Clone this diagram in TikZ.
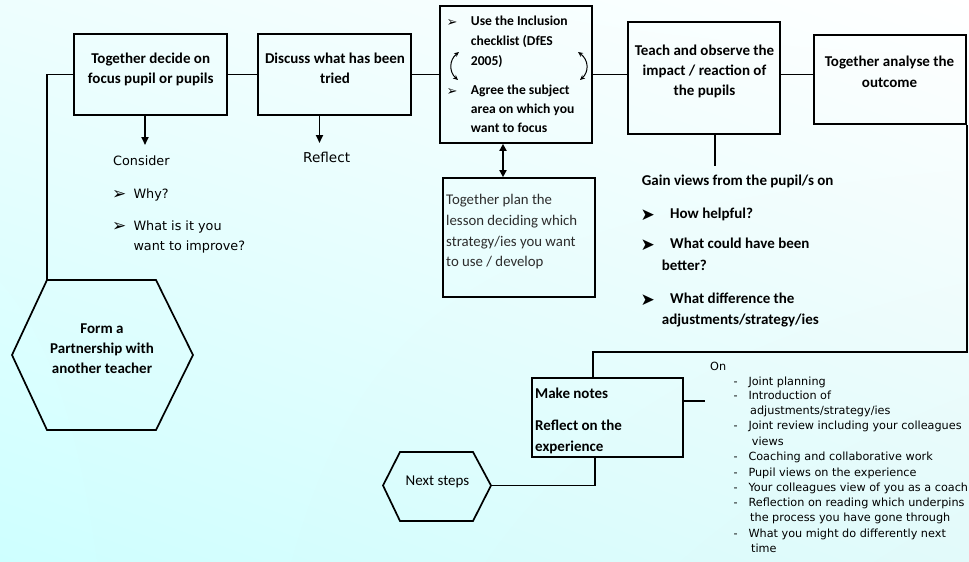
\documentclass[tikz,border=0pt]{standalone}
\usepackage{fontspec}
\setmainfont{Carlito}
\newfontfamily\dvfont{DejaVu Sans}
\usetikzlibrary{arrows.meta,shadings}
\definecolor{bgUL}{RGB}{238,254,254}
\definecolor{bgLL}{RGB}{206,255,255}
\definecolor{bgLR}{RGB}{226,250,250}
\definecolor{plangray}{RGB}{45,45,45}
\tikzset{
 box/.style={draw=black, line width=1.7pt, inner sep=0pt},
 conn/.style={draw=black, line width=1.7pt},
 arr/.style={conn, -{Triangle[length=8pt,width=7pt]}},
 darr/.style={conn, {Triangle[length=7pt,width=7pt]}-{Triangle[length=7pt,width=7pt]}},
 carr/.style={draw=black, line width=1pt, {Stealth[length=5pt,width=4.5pt]}-{Stealth[length=5pt,width=4.5pt]}},
 bt/.style={font=\bfseries\fontsize{15}{20}\selectfont, anchor=base, inner sep=0pt},
 btl/.style={bt, anchor=base west},
 bt3/.style={font=\bfseries\fontsize{13.6}{19}\selectfont, anchor=base west, inner sep=0pt},
 rt/.style={font=\fontsize{15}{20}\selectfont, anchor=base, inner sep=0pt},
 pt/.style={font=\fontsize{14.8}{20}\selectfont, text=plangray, anchor=base west, inner sep=0pt},
 tt/.style={font=\dvfont\fontsize{12.8}{16}\selectfont, anchor=base west, inner sep=0pt},
 lt/.style={font=\dvfont\fontsize{11.25}{14}\selectfont, anchor=base west, inner sep=0pt},
 bul/.style={font=\dvfont\fontsize{#1}{#1}\selectfont, anchor=base west, inner sep=0pt},
}
\begin{document}
\begin{tikzpicture}[x=1pt,y=-1pt]
\shade[upper left=bgUL, upper right=white, lower left=bgLL, lower right=bgLR] (0,0) rectangle (969,562);
\useasboundingbox (0,0) rectangle (969,562);

% boxes
\node[box, minimum width=153pt, minimum height=81pt] (b1) at (150.5,74.5) {};
\node[box, minimum width=153pt, minimum height=81pt] (b2) at (334.5,74.5) {};
\node[box, minimum width=152pt, minimum height=137pt] (b3) at (516,74.5) {};
\node[box, minimum width=152pt, minimum height=112pt] (b4) at (704,78) {};
\node[box, minimum width=152pt, minimum height=89pt] (b5) at (890,79.5) {};
\node[box, minimum width=152pt, minimum height=119pt] (plan) at (519,237.5) {};
\node[box, minimum width=151pt, minimum height=79pt] (b6) at (607.5,417.5) {};

% hexagons
\coordinate (h1tl) at (47,280);
\coordinate (h1tr) at (156,280);
\coordinate (h1r) at (193,355);
\coordinate (h1br) at (156,430);
\coordinate (h1bl) at (47,430);
\coordinate (h1l) at (12,355);
\draw[conn, line join=miter] (h1tl) -- (h1tr) -- (h1r) -- (h1br) -- (h1bl) -- (h1l) -- cycle;
\coordinate (h2tl) at (400,452);
\coordinate (h2tr) at (473,452);
\coordinate (h2r) at (491,485.5);
\coordinate (h2br) at (473,521);
\coordinate (h2bl) at (400,521);
\coordinate (h2l) at (383,485.5);
\draw[conn, line join=miter] (h2tl) -- (h2tr) -- (h2r) -- (h2br) -- (h2bl) -- (h2l) -- cycle;

% box texts
\node[bt] (t1a) at (150.7,63) {Together decide on};
\node[bt] (t1b) at (150.7,83) {focus pupil or pupils};
\node[bt] (t2a) at (335,63) {Discuss what has been};
\node[bt] (t2b) at (335,83) {tried};

\node[bul=13] (k1) at (446.5,26) {➢};
\node[bt3] (t3a) at (470.7,25) {Use the Inclusion};
\node[bt3] (t3b) at (470.7,45) {checklist (DfES};
\node[bt3] (t3c) at (470.7,65) {2005)};
\node[bul=13] (k2) at (446.5,95) {➢};
\node[bt3] (t3d) at (470.7,94) {Agree the subject};
\node[bt3] (t3e) at (470.7,113.3) {area on which you};
\node[bt3] (t3f) at (470.7,132.3) {want to focus};
\draw[carr] (459,52) .. controls (449,60) and (449,72) .. (458,80);
\draw[carr] (578,52) .. controls (589,60) and (589,72) .. (580,80);

\node[bt] (t4a) at (704.5,55) {Teach and observe the};
\node[bt] (t4b) at (704.5,75) {impact / reaction of};
\node[bt] (t4c) at (704.5,95) {the pupils};
\node[bt] (t5a) at (889.5,66.7) {Together analyse the};
\node[bt] (t5b) at (889.5,87.3) {outcome};

\node[pt] (p1) at (446,204) {Together plan the};
\node[pt] (p2) at (446,225) {lesson deciding which};
\node[pt] (p3) at (446,246) {strategy/ies you want};
\node[pt] (p4) at (446,266.7) {to use / develop};

\node[btl] (m1) at (535,398.3) {Make notes};
\node[btl] (m2) at (535,430.7) {Reflect on the};
\node[btl] (m3) at (535,451) {experience};

\node[bt] (x1) at (102,333.3) {Form a};
\node[bt] (x2) at (102,353.3) {Partnership with};
\node[bt] (x3) at (102,373.3) {another teacher};
\node[rt] (ns) at (437.5,485) {Next steps};

% consider / reflect
\node[tt] (c0) at (113,165) {Consider};
\node[bul=17] (cb1) at (112,199.5) {➢};
\node[tt] (c1t) at (133.3,198) {Why?};
\node[bul=17] (cb2) at (112,231.5) {➢};
\node[tt] (c2t) at (133.3,230) {What is it you};
\node[tt] (c3t) at (133.3,250) {want to improve?};
\node[font=\dvfont\fontsize{13.6}{16}\selectfont, anchor=base west, inner sep=0pt] (rf) at (303,162.7) {Reflect};

% gain views
\node[btl] (g0) at (641.7,185.7) {Gain views from the pupil/s on};
\node[bul=17] (gb1) at (640.5,220) {➤};
\node[btl] (g1) at (670,218.3) {How helpful?};
\node[bul=17] (gb2) at (640.5,250) {➤};
\node[btl] (g2) at (670,248.3) {What could have been};
\node[btl] (g3) at (661.7,270) {better?};
\node[bul=17] (gb3) at (640.5,305) {➤};
\node[btl] (g4) at (670,303.3) {What difference the};
\node[btl] (g5) at (661.7,324) {adjustments/strategy/ies};

% On list
\node[lt] (on) at (710,370) {On};
\foreach \n/\y in {1/385,2/399.3,3/429.3,4/460.7,5/476,6/491.7,7/506.7,8/537.3}
  \node[lt] (d\n) at (733.3,\y) {-};
\node[lt] (l1) at (748.3,385) {Joint planning};
\node[lt] (l2) at (748.3,399.3) {Introduction of};
\node[lt] (l3) at (750,414) {adjustments/strategy/ies};
\node[lt] (l4) at (748.3,429.3) {Joint review including your colleagues};
\node[lt] (l5) at (751.7,445) {views};
\node[lt] (l6) at (748.3,460.7) {Coaching and collaborative work};
\node[lt] (l7) at (748.3,476) {Pupil views on the experience};
\node[lt] (l8) at (748.3,491.7) {Your colleagues view of you as a coach};
\node[lt] (l9) at (748.3,506.7) {Reflection on reading which underpins};
\node[lt] (l10) at (750,521.7) {the process you have gone through};
\node[lt] (l11) at (748.3,537.3) {What you might do differently next};
\node[lt] (l12) at (751,552.7) {time};

% connectors
\draw[conn] (b1.east) -- (b2.west);
\draw[conn] (b2.east) -- (b3.west);
\draw[conn] (b3.east) -- (b3.east -| b4.west);
\draw[conn] (b3.east -| b4.east) -- (b3.east -| b5.west);
\draw[conn] (b1.west) -- (b1.west -| h1tl) -- (h1tl);
\coordinate (e1) at (145,145);
\draw[arr] (e1 |- b1.south) -- (e1);
\coordinate (e2) at (319.5,143);
\draw[arr] (e2 |- b2.south) -- (e2);
\coordinate (e3) at (503,0);
\draw[darr] (e3 |- b3.south) -- (e3 |- plan.north);
\coordinate (e4) at (715,166);
\draw[conn] (e4 |- b4.south) -- (e4);
\coordinate (e5) at (593,352);
\draw[conn] (b5.south east) -- (b5.south east |- e5) -- (e5) -- (e5 |- b6.north);
\coordinate (e6) at (705,401);
\draw[conn] (e6 -| b6.east) -- (e6);
\coordinate (e7) at (595,485.5);
\draw[conn] (e7 |- b6.south) -- (e7) -- (h2r);
\end{tikzpicture}
\end{document}
